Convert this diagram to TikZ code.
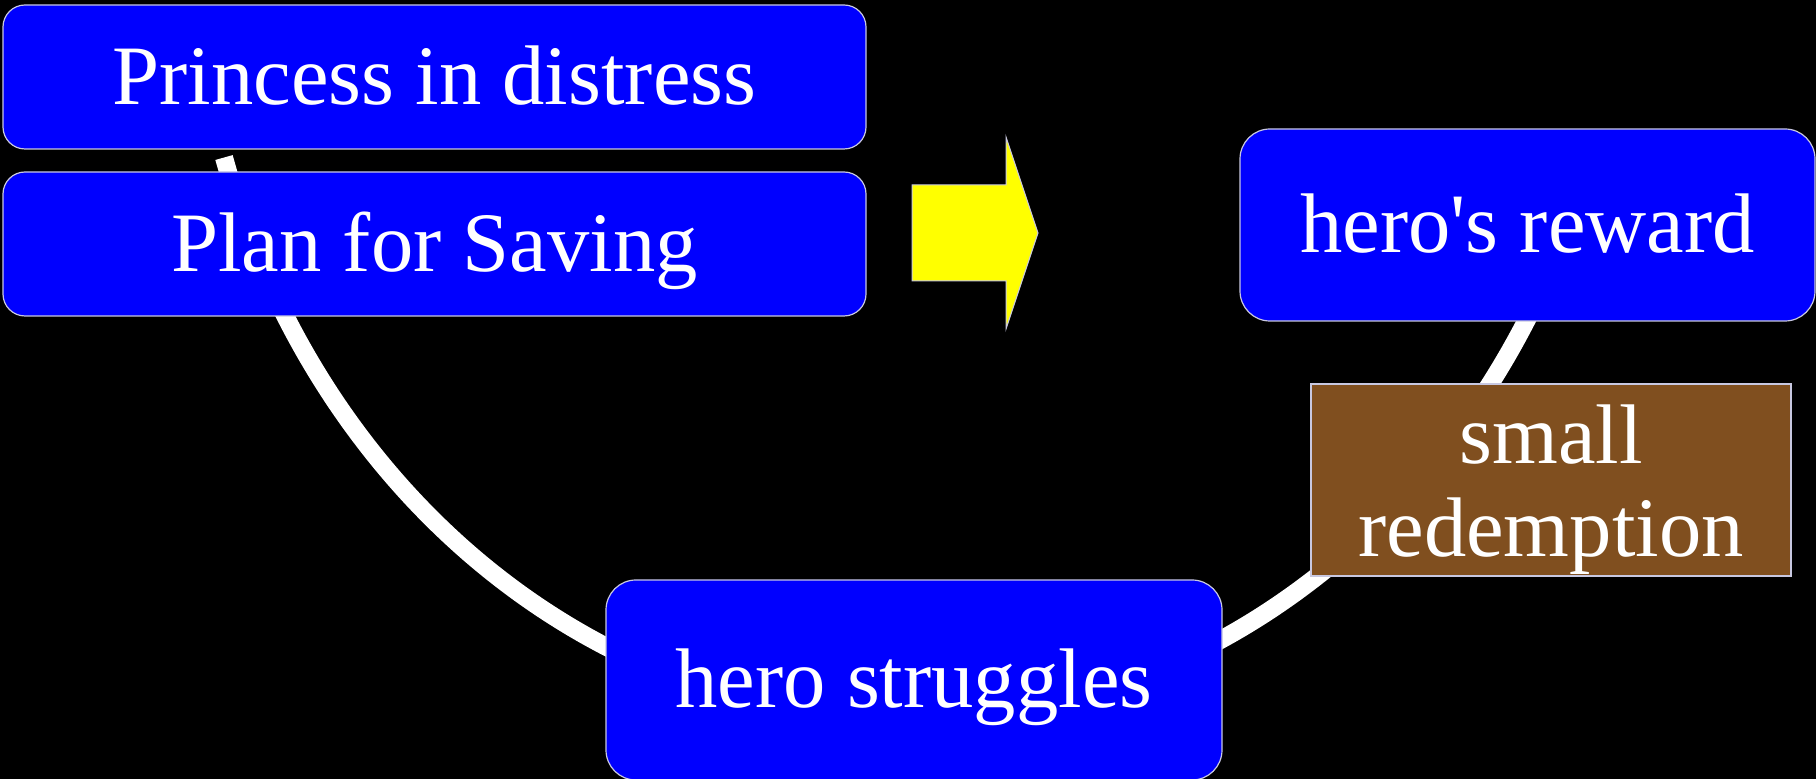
\documentclass[tikz,border=0pt]{standalone}
\usepackage{fontspec}
\setmainfont{Liberation Serif}
\definecolor{boxblue}{RGB}{0,0,255}
\definecolor{brownbox}{RGB}{128,79,31}
\definecolor{edgegray}{RGB}{200,200,225}
\definecolor{arrowyellow}{RGB}{255,255,0}
\tikzset{
  boxtext/.style={text=white, font=\fontsize{42.3}{46.5}\selectfont},
  bluebox/.style={boxtext, draw=edgegray, line width=0.6pt, fill=boxblue,
    inner sep=0pt, text height=28pt, text depth=0pt},
  brownnote/.style={draw=edgegray, line width=0.6pt, fill=brownbox, inner sep=0pt},
  notetext/.style={boxtext, inner sep=0pt, align=center},
  arcline/.style={draw=white, line width=9pt},
  bigarrow/.style={fill=arrowyellow, draw=edgegray, line width=0.5pt}
}
\begin{document}
\begin{tikzpicture}[x=0.5pt, y=-0.5pt]
  \fill[black] (0,0) rectangle (1816,779);
  \useasboundingbox (0,0) rectangle (1816,779);
  % sweeping arc behind the boxes
  \draw[arcline] plot[domain=162.8:17.2, samples=150, smooth, variable=\t]
    ({907+715*cos(\t)}, {-79+800*sin(\t)});
  % boxes
  \node[bluebox, rounded corners=11pt, minimum width=431.5pt, minimum height=72pt]
    (princess) at (434.5,77) {Princess in distress};
  \node[bluebox, rounded corners=11pt, minimum width=431.5pt, minimum height=72pt]
    (plan) at (434.5,244) {Plan for Saving};
  \node[bluebox, rounded corners=15pt, minimum width=287.5pt, minimum height=96pt]
    (reward) at (1527.5,225) {hero\textquotesingle s reward};
  \node[bluebox, rounded corners=15pt, minimum width=308pt, minimum height=100pt]
    (struggles) at (914,680) {hero struggles};
  \node[brownnote, minimum width=240pt, minimum height=96pt]
    (redemption) at (1551,480) {};
  \node[notetext] (redemptiontext) at ([yshift=-5pt]redemption.center)
    {small\\redemption};
  % yellow block arrow
  \coordinate (arrowtip) at (1038,233);
  \draw[bigarrow] (912,185) -- (1006,185) -- (1006,137) -- (arrowtip)
    -- (1006,329) -- (1006,281) -- (912,281) -- cycle;
\end{tikzpicture}
\end{document}
